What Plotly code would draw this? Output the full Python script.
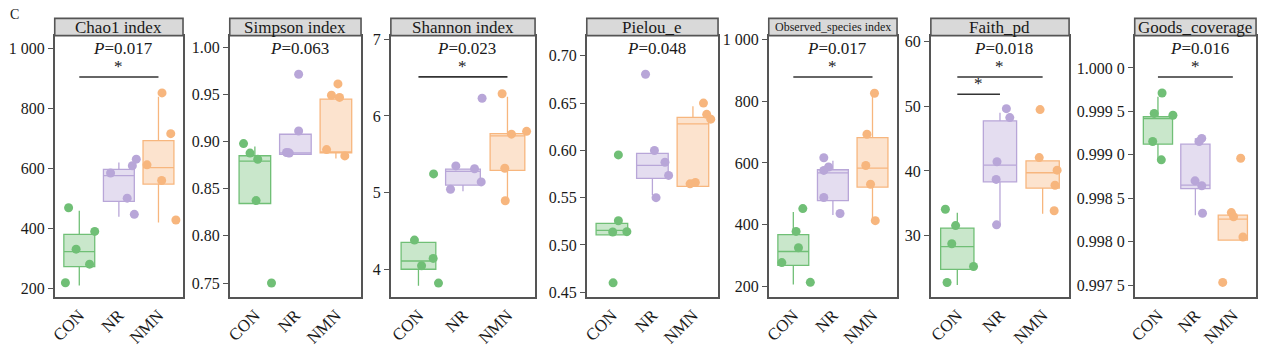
import plotly.graph_objects as go

# ---- groups and panel labels -------------------------------------------
CATEGORIES = ["CON", "NR", "NMN"]
PANEL_TITLES = ["Chao1 index", "Simpson index", "Shannon index", "Pielou_e",
                "Observed_species index", "Faith_pd", "Goods_coverage"]
P_VALUES = ["0.017", "0.063", "0.023", "0.048", "0.017", "0.018", "0.016"]

# ---- sample values per group (CON, NR, NMN) -----------------------------
chao1 = [[470, 391, 332, 282, 220],
         [586, 610, 632, 502, 448],
         [853, 717, 613, 561, 429]]
simpson = [[0.8978, 0.8877, 0.8812, 0.8374, 0.7500],
           [0.9712, 0.9111, 0.8883, 0.8877, 0.8880],
           [0.9610, 0.9490, 0.9467, 0.8914, 0.8847]]
shannon = [[4.384, 5.246, 4.146, 4.050, 3.825],
           [6.230, 5.350, 5.313, 5.046, 5.142],
           [6.290, 5.763, 5.800, 5.320, 4.896]]
pielou = [[0.5952, 0.5256, 0.5137, 0.5141, 0.4600],
          [0.6804, 0.5999, 0.5874, 0.5735, 0.5500],
          [0.6500, 0.6381, 0.5646, 0.5660, 0.6330]]
observed = [[452, 378, 325, 277, 213],
            [617, 587, 576, 488, 436],
            [826, 693, 592, 531, 413]]
faith = [[34.09, 31.56, 28.74, 25.23, 22.75],
         [49.64, 48.26, 41.43, 38.70, 31.67],
         [49.50, 42.07, 40.13, 37.80, 33.85]]
goods = [[0.999712, 0.999477, 0.999455, 0.999153, 0.998942],
         [0.999189, 0.999153, 0.998700, 0.998644, 0.998326],
         [0.998960, 0.998334, 0.998286, 0.998053, 0.997530]]

# ---- box statistics per group: [lower fence, q1, median, q3, upper fence]
chao1_box = [[211, 274, 324, 381, 460],
             [440, 491, 577, 598, 621],
             [421, 549, 604, 694, 840]]
simpson_box = [[0.8343, 0.8343, 0.8791, 0.8849, 0.8948],
               [0.8863, 0.8863, 0.8880, 0.9077, 0.9077],
               [0.8819, 0.8880, 0.8889, 0.9450, 0.9490]]
shannon_box = [[3.790, 4.005, 4.112, 4.355, 4.355],
               [5.020, 5.100, 5.280, 5.309, 5.309],
               [4.900, 5.293, 5.740, 5.771, 6.250]]
pielou_box = [[0.5107, 0.5107, 0.5154, 0.5228, 0.5228],
              [0.5526, 0.5705, 0.5841, 0.5969, 0.5969],
              [0.5620, 0.5620, 0.6280, 0.6348, 0.6466]]
observed_box = [[206, 268, 313, 368, 441],
                [431, 478, 568, 578, 607],
                [415, 522, 583, 682, 815]]
faith_box = [[22.35, 24.79, 28.29, 31.17, 33.55],
             [31.67, 38.31, 40.92, 47.76, 49.00],
             [33.40, 37.35, 39.73, 41.58, 41.58]]
goods_box = [[0.998942, 0.999123, 0.999418, 0.999440, 0.999668],
             [0.998304, 0.998610, 0.998650, 0.999123, 0.999190],
             [0.998017, 0.998017, 0.998260, 0.998304, 0.998304]]

# ---- horizontal jitter of the dots (in category units) ------------------
chao1_jitter = [[-0.27, 0.39, -0.08, 0.26, -0.35],
                [-0.21, 0.34, 0.44, 0.21, 0.39],
                [0.09, 0.31, -0.29, 0.08, 0.44]]
simpson_jitter = [[-0.28, -0.12, 0.07, 0.03, 0.41],
                  [0.08, 0.08, -0.22, -0.15, -0.18],
                  [0.05, -0.11, 0.09, -0.23, 0.22]]
shannon_jitter = [[-0.09, 0.34, 0.33, 0.07, 0.45],
                  [0.43, -0.16, 0.26, -0.28, 0.41],
                  [-0.12, 0.09, 0.43, -0.06, -0.05]]
pielou_jitter = [[0.16, 0.16, 0.02, 0.37, 0.03],
                 [-0.17, 0.05, 0.31, 0.40, 0.09],
                 [0.26, 0.34, -0.07, 0.06, 0.44]]
observed_jitter = [[0.24, 0.07, 0.13, -0.29, 0.43],
                   [-0.23, -0.11, -0.23, -0.23, 0.18],
                   [0.05, -0.14, -0.17, -0.05, 0.07]]
faith_jitter = [[-0.28, -0.04, -0.13, 0.38, -0.24],
                [0.15, 0.23, -0.07, -0.09, -0.08],
                [-0.06, -0.08, 0.34, 0.29, 0.27]]
goods_jitter = [[0.11, -0.10, 0.40, -0.14, 0.09],
                [0.17, 0.10, -0.01, 0.17, 0.19],
                [0.21, -0.04, 0.02, 0.27, -0.27]]

# ---- axis ranges and tick labels ---------------------------------------
y_ranges = [[173, 1044], [0.7354, 1.0122], [3.646, 7.046], [0.4452, 0.7213],
            [166, 1013], [20.54, 60.94], [0.997364, 1.000373]]
y_tickvals = [[200, 400, 600, 800, 1000],
              [0.75, 0.80, 0.85, 0.90, 0.95, 1.00],
              [4, 5, 6, 7],
              [0.45, 0.50, 0.55, 0.60, 0.65, 0.70],
              [200, 400, 600, 800, 1000],
              [30, 40, 50, 60],
              [0.9975, 0.9980, 0.9985, 0.9990, 0.9995, 1.0000]]
y_ticktext = [["200", "400", "600", "800", "1 000"],
              ["0.75", "0.80", "0.85", "0.90", "0.95", "1.00"],
              ["4", "5", "6", "7"],
              ["0.45", "0.50", "0.55", "0.60", "0.65", "0.70"],
              ["200", "400", "600", "800", "1 000"],
              ["30", "40", "50", "60"],
              ["0.997 5", "0.998 0", "0.998 5", "0.999 0", "0.999 5", "1.000 0"]]

# ---- significance brackets per panel: (from group, to group, height) ----
sig_bars = [[(0, 2, 906)], [], [(0, 2, 6.509)], [], [(0, 2, 879)],
            [(0, 2, 54.55), (0, 1, 51.87)], [(0, 2, 0.999897)]]

panel_values = [chao1, simpson, shannon, pielou, observed, faith, goods]
panel_boxes = [chao1_box, simpson_box, shannon_box, pielou_box,
               observed_box, faith_box, goods_box]
panel_jitter = [chao1_jitter, simpson_jitter, shannon_jitter, pielou_jitter,
                observed_jitter, faith_jitter, goods_jitter]

# ---- styling -----------------------------------------------------------
W, H = 1265, 347
panel_px = [(48, 177), (224, 356), (386, 531), (583, 715),
            (766, 895), (929, 1068), (1134, 1256)]
STRIP_TOP, PLOT_TOP, PLOT_BOTTOM = 14, 32, 305
dot_colors = ["#70BF76", "#B8A6D8", "#F7B67E"]
fill_colors = ["rgba(112,191,118,0.38)", "rgba(184,166,216,0.38)",
               "rgba(247,182,126,0.38)"]
SERIF = "Liberation Serif, Times New Roman, serif"
TEXT = "#1a1a1a"
FRAME = "#555555"


def py(px):
    return (H - px) / H


fig = go.Figure()
layout = {}
shapes = []
annotations = []

for i in range(len(PANEL_TITLES)):
    suffix = "" if i == 0 else str(i + 1)
    xa, ya = "x" + suffix, "y" + suffix
    left, right = panel_px[i]

    for g in range(3):
        lf, q1, med, q3, uf = panel_boxes[i][g]
        fig.add_trace(go.Box(
            x=[g], q1=[q1], median=[med], q3=[q3],
            lowerfence=[lf], upperfence=[uf],
            width=0.78, whiskerwidth=0, boxpoints=False,
            fillcolor=fill_colors[g],
            line=dict(color=dot_colors[g], width=1.3),
            xaxis=xa, yaxis=ya, showlegend=False, hoverinfo="skip"))
        fig.add_trace(go.Scatter(
            x=[g + j for j in panel_jitter[i][g]], y=panel_values[i][g],
            mode="markers",
            marker=dict(size=9, color=dot_colors[g], line=dict(width=0)),
            xaxis=xa, yaxis=ya, showlegend=False, hoverinfo="skip"))

    layout["xaxis" + suffix] = dict(
        domain=[left / W, right / W], anchor=ya,
        range=[-0.62, 2.62], tickvals=[0, 1, 2], ticktext=CATEGORIES,
        tickangle=-45, ticks="", showgrid=False, zeroline=False,
        showline=True, mirror=True, linecolor=FRAME, linewidth=1.6,
        tickfont=dict(family=SERIF, size=17, color=TEXT), fixedrange=True)
    layout["yaxis" + suffix] = dict(
        domain=[py(PLOT_BOTTOM), py(PLOT_TOP)], anchor=xa,
        range=y_ranges[i], tickvals=y_tickvals[i], ticktext=y_ticktext[i],
        ticks="outside", ticklen=5, tickwidth=1.2, tickcolor=FRAME,
        showgrid=False, zeroline=False,
        showline=True, mirror=True, linecolor=FRAME, linewidth=1.6,
        tickfont=dict(family=SERIF, size=16, color=TEXT), fixedrange=True)

    # grey title strip above each panel
    shapes.append(dict(type="rect", xref="paper", yref="paper",
                       x0=left / W, x1=right / W,
                       y0=py(PLOT_TOP), y1=py(STRIP_TOP),
                       fillcolor="#d9d9d9", line=dict(color=FRAME, width=1.6)))
    annotations.append(dict(
        text=PANEL_TITLES[i], xref="paper", yref="paper",
        x=(left + right) / 2 / W, y=py((STRIP_TOP + PLOT_TOP) / 2),
        xanchor="center", yanchor="middle", showarrow=False,
        font=dict(family=SERIF, size=12 if len(PANEL_TITLES[i]) > 15 else 17,
                  color=TEXT)))

    annotations.append(dict(
        text="<i>P</i>=" + P_VALUES[i], xref="paper", yref="paper",
        x=(left + right) / 2 / W, xshift=4, y=py(45),
        xanchor="center", yanchor="middle", showarrow=False,
        font=dict(family=SERIF, size=17, color=TEXT)))

    for k, (g0, g1, yv) in enumerate(sig_bars[i]):
        shapes.append(dict(type="line", xref=xa, yref=ya,
                           x0=g0, x1=g1, y0=yv, y1=yv,
                           line=dict(color="#333333", width=1.6)))
        annotations.append(dict(
            text="*", xref=xa, yref=ya, x=(g0 + g1) / 2, y=yv,
            xanchor="center", yanchor="bottom", yshift=-1, showarrow=False,
            font=dict(family=SERIF, size=17, color=TEXT)))

annotations.append(dict(text="C", xref="paper", yref="paper",
                        x=1 / W, y=py(10), xanchor="left", yanchor="middle",
                        showarrow=False,
                        font=dict(family=SERIF, size=14, color=TEXT)))

fig.update_layout(
    width=W, height=H, autosize=False,
    margin=dict(l=0, r=0, t=0, b=0),
    paper_bgcolor="white", plot_bgcolor="white",
    boxmode="overlay", shapes=shapes, annotations=annotations,
    **layout)

fig.write_html("out.html")
